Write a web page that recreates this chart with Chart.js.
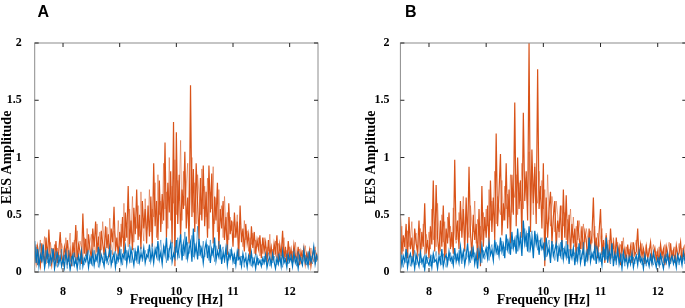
<!DOCTYPE html>
<html>
<head>
<meta charset="utf-8">
<script src="https://cdn.jsdelivr.net/npm/chart.js@4.4.1/dist/chart.umd.min.js"></script>
<style>
  html, body { margin: 0; padding: 0; background: #fff; overflow: hidden; }
  #wrapA { position: absolute; left: 0; top: 0; width: 340px; height: 308px; }
  #wrapB { position: absolute; left: 345px; top: 0; width: 345px; height: 308px; }
</style>
</head>
<body>
<div id="wrapA"><canvas id="chartA"></canvas></div>
<div id="wrapB"><canvas id="chartB"></canvas></div>
<script>
// frequency bins [Hz]
const freq = [
  7.5,7.525,7.55,7.575,7.6,7.625,7.65,7.675,7.7,7.725,7.75,7.775,7.8,7.825,7.85,7.875,7.9,7.925,7.95,7.975,
  8,8.025,8.05,8.075,8.1,8.125,8.15,8.175,8.2,8.225,8.25,8.275,8.3,8.325,8.35,8.375,8.4,8.425,8.45,8.475,
  8.5,8.525,8.55,8.575,8.6,8.625,8.65,8.675,8.7,8.725,8.75,8.775,8.8,8.825,8.85,8.875,8.9,8.925,8.95,8.975,
  9,9.025,9.05,9.075,9.1,9.125,9.15,9.175,9.2,9.225,9.25,9.275,9.3,9.325,9.35,9.375,9.4,9.425,9.45,9.475,
  9.5,9.525,9.55,9.575,9.6,9.625,9.65,9.675,9.7,9.725,9.75,9.775,9.8,9.825,9.85,9.875,9.9,9.925,9.95,9.975,
  10,10.025,10.05,10.075,10.1,10.125,10.15,10.175,10.2,10.225,10.25,10.275,10.3,10.325,10.35,10.375,10.4,10.425,10.45,10.475,
  10.5,10.525,10.55,10.575,10.6,10.625,10.65,10.675,10.7,10.725,10.75,10.775,10.8,10.825,10.85,10.875,10.9,10.925,10.95,10.975,
  11,11.025,11.05,11.075,11.1,11.125,11.15,11.175,11.2,11.225,11.25,11.275,11.3,11.325,11.35,11.375,11.4,11.425,11.45,11.475,
  11.5,11.525,11.55,11.575,11.6,11.625,11.65,11.675,11.7,11.725,11.75,11.775,11.8,11.825,11.85,11.875,11.9,11.925,11.95,11.975,
  12,12.025,12.05,12.075,12.1,12.125,12.15,12.175,12.2,12.225,12.25,12.275,12.3,12.325,12.35,12.375,12.4,12.425,12.45,12.475,
  12.5
];

// panel A
const orangeA = [
  0.18,0.08,0.22,0.12,0.05,0.25,0.15,0.09,0.30,0.11,0.37,0.14,0.06,0.21,0.10,0.27,0.08,0.18,0.35,0.12,
  0.07,0.22,0.15,0.28,0.09,0.19,0.05,0.26,0.13,0.41,0.10,0.24,0.18,0.07,0.51,0.16,0.29,0.11,0.33,0.20,
  0.12,0.38,0.22,0.44,0.17,0.31,0.09,0.36,0.25,0.15,0.40,0.21,0.33,0.13,0.38,0.26,0.57,0.18,0.30,0.14,
  0.35,0.22,0.48,0.16,0.52,0.30,0.75,0.24,0.45,0.19,0.56,0.33,0.72,0.28,0.50,0.20,0.62,0.38,0.55,0.25,
  0.58,0.31,0.66,0.22,0.95,0.40,0.62,0.28,0.80,0.35,0.68,0.45,1.13,0.30,0.78,0.52,0.88,0.25,1.31,0.05,
  1.22,0.42,0.85,0.30,0.72,0.55,1.05,0.38,0.65,0.25,1.63,0.48,0.90,0.35,0.95,0.60,0.28,0.82,0.45,0.93,
  0.40,0.70,0.30,0.93,0.52,0.86,0.25,0.66,0.45,0.78,0.20,0.55,0.38,0.62,0.28,0.48,0.15,0.60,0.33,0.45,
  0.22,0.52,0.30,0.44,0.12,0.58,0.26,0.38,0.18,0.42,0.25,0.33,0.10,0.40,0.21,0.35,0.15,0.28,0.20,0.32,
  0.12,0.30,0.18,0.26,0.08,0.28,0.15,0.22,0.10,0.25,0.17,0.32,0.09,0.24,0.14,0.36,0.11,0.22,0.07,0.27,
  0.13,0.20,0.08,0.24,0.15,0.10,0.22,0.06,0.18,0.12,0.21,0.07,0.16,0.11,0.19,0.05,0.14,0.20,0.09,0.15,
  0.10
];
// lighter (transparent) orange trace in A
const orangeA2 = [
  0.10,0.24,0.06,0.19,0.28,0.08,0.20,0.31,0.07,0.22,0.13,0.26,0.18,0.09,0.24,0.05,0.21,0.12,0.16,0.25,
  0.20,0.10,0.30,0.06,0.23,0.34,0.12,0.18,0.28,0.09,0.36,0.15,0.27,0.21,0.11,0.30,0.14,0.38,0.19,0.26,
  0.33,0.16,0.29,0.11,0.42,0.24,0.35,0.19,0.44,0.28,0.12,0.39,0.20,0.47,0.25,0.15,0.36,0.30,0.22,0.45,
  0.18,0.42,0.30,0.60,0.27,0.40,0.22,0.55,0.34,0.66,0.26,0.48,0.38,0.58,0.31,0.70,0.42,0.27,0.64,0.36,
  0.40,0.72,0.35,0.55,0.48,0.78,0.30,0.85,0.50,0.62,0.42,0.95,0.55,0.70,0.38,1.00,0.45,0.75,0.60,0.98,
  0.50,0.80,0.62,1.15,0.45,0.88,0.58,0.75,0.95,0.40,0.70,1.00,0.52,0.78,0.42,0.85,0.68,0.50,0.90,0.55,
  0.75,0.48,0.82,0.38,0.70,0.55,0.92,0.42,0.65,0.35,0.72,0.45,0.58,0.30,0.66,0.40,0.52,0.28,0.48,0.36,
  0.44,0.30,0.36,0.50,0.25,0.40,0.32,0.22,0.45,0.28,0.36,0.18,0.30,0.24,0.34,0.16,0.28,0.22,0.30,0.14,
  0.24,0.16,0.30,0.12,0.22,0.18,0.33,0.10,0.20,0.15,0.27,0.12,0.25,0.18,0.08,0.22,0.30,0.13,0.19,0.10,
  0.22,0.12,0.18,0.09,0.26,0.14,0.11,0.20,0.07,0.19,0.13,0.23,0.10,0.17,0.06,0.21,0.12,0.09,0.22,0.11,
  0.14
];
const blueA = [
  0.27,0.08,0.20,0.05,0.15,0.10,0.24,0.04,0.12,0.18,0.06,0.14,0.09,0.20,0.03,0.11,0.16,0.07,0.13,0.05,
  0.12,0.04,0.17,0.08,0.13,0.02,0.10,0.15,0.06,0.11,0.03,0.14,0.08,0.18,0.05,0.12,0.09,0.16,0.04,0.13,
  0.08,0.17,0.06,0.14,0.10,0.22,0.07,0.15,0.11,0.05,0.18,0.09,0.13,0.21,0.06,0.12,0.16,0.04,0.14,0.10,
  0.19,0.08,0.15,0.12,0.22,0.07,0.17,0.10,0.20,0.13,0.06,0.18,0.11,0.23,0.09,0.16,0.12,0.21,0.08,0.15,
  0.13,0.24,0.10,0.18,0.08,0.20,0.14,0.27,0.11,0.17,0.07,0.22,0.15,0.30,0.10,0.19,0.25,0.09,0.16,0.12,
  0.28,0.14,0.22,0.33,0.10,0.25,0.17,0.31,0.12,0.20,0.26,0.09,0.38,0.15,0.23,0.11,0.29,0.16,0.21,0.08,
  0.19,0.26,0.12,0.23,0.08,0.20,0.15,0.30,0.10,0.18,0.13,0.24,0.07,0.17,0.11,0.21,0.06,0.16,0.12,0.19,
  0.09,0.15,0.06,0.18,0.11,0.13,0.05,0.16,0.09,0.12,0.04,0.14,0.08,0.17,0.06,0.11,0.03,0.13,0.07,0.10,
  0.05,0.12,0.08,0.15,0.04,0.10,0.13,0.06,0.16,0.09,0.03,0.12,0.07,0.14,0.05,0.18,0.08,0.11,0.04,0.15,
  0.09,0.13,0.05,0.17,0.08,0.12,0.03,0.14,0.10,0.06,0.19,0.08,0.12,0.05,0.16,0.09,0.13,0.22,0.07,0.14,
  0.11
];
const blueA2 = [
  0.12,0.22,0.06,0.17,0.25,0.09,0.14,0.03,0.19,0.08,0.16,0.05,0.21,0.11,0.07,0.18,0.04,0.15,0.10,0.20,
  0.08,0.15,0.11,0.03,0.19,0.09,0.14,0.05,0.17,0.07,0.13,0.10,0.02,0.16,0.09,0.06,0.15,0.11,0.19,0.07,
  0.14,0.05,0.19,0.09,0.16,0.04,0.20,0.12,0.08,0.17,0.10,0.14,0.06,0.11,0.19,0.08,0.13,0.18,0.07,0.16,
  0.11,0.20,0.06,0.17,0.10,0.19,0.13,0.24,0.08,0.16,0.21,0.10,0.18,0.07,0.15,0.22,0.09,0.14,0.19,0.11,
  0.20,0.09,0.17,0.25,0.13,0.16,0.22,0.10,0.19,0.28,0.12,0.18,0.23,0.08,0.21,0.14,0.11,0.26,0.13,0.22,
  0.17,0.30,0.12,0.19,0.24,0.14,0.35,0.11,0.26,0.16,0.22,0.32,0.13,0.25,0.18,0.40,0.14,0.23,0.12,0.27,
  0.13,0.18,0.24,0.10,0.28,0.14,0.21,0.09,0.23,0.15,0.27,0.11,0.19,0.22,0.08,0.17,0.24,0.10,0.20,0.14,
  0.16,0.07,0.13,0.10,0.20,0.06,0.14,0.11,0.04,0.17,0.09,0.12,0.15,0.05,0.13,0.10,0.16,0.06,0.12,0.08,
  0.11,0.06,0.14,0.09,0.12,0.17,0.05,0.11,0.08,0.14,0.10,0.06,0.16,0.09,0.12,0.04,0.13,0.10,0.16,0.07,
  0.12,0.16,0.07,0.11,0.14,0.05,0.18,0.10,0.13,0.08,0.11,0.15,0.06,0.18,0.10,0.14,0.07,0.12,0.19,0.09,
  0.16
];

// panel B
const orangeB = [
  0.50,0.15,0.32,0.22,0.42,0.12,0.48,0.20,0.30,0.10,0.38,0.25,0.18,0.45,0.14,0.35,0.22,0.60,0.16,0.28,
  0.12,0.40,0.24,0.80,0.18,0.76,0.30,0.15,0.45,0.22,0.58,0.10,0.38,0.25,0.52,0.20,0.35,0.16,0.98,0.28,
  0.45,0.20,0.62,0.30,0.55,0.18,0.65,0.25,0.92,0.35,0.14,0.50,0.28,0.42,0.10,0.55,0.05,0.75,0.22,0.48,
  0.30,0.58,0.22,0.80,0.35,0.65,0.28,1.21,0.40,0.70,1.03,0.32,0.60,0.45,0.95,0.38,0.72,0.25,0.85,0.50,
  1.48,0.40,1.00,0.55,0.80,0.30,1.39,0.62,0.88,0.45,2.00,0.35,1.07,0.60,0.92,0.42,1.77,0.55,0.75,0.38,
  0.95,0.05,0.65,0.30,0.55,0.70,0.25,0.48,0.62,0.20,0.45,0.35,0.58,0.18,0.72,0.30,0.67,0.22,0.50,0.15,
  0.42,0.25,0.38,0.12,0.45,0.30,0.20,0.40,0.15,0.35,0.28,0.10,0.38,0.22,0.32,0.65,0.18,0.30,0.12,0.35,
  0.55,0.15,0.28,0.08,0.32,0.20,0.12,0.38,0.18,0.25,0.10,0.30,0.16,0.22,0.06,0.27,0.14,0.20,0.09,0.24,
  0.12,0.22,0.08,0.26,0.15,0.18,0.38,0.10,0.24,0.14,0.20,0.07,0.22,0.12,0.18,0.26,0.09,0.16,0.21,0.11,
  0.18,0.08,0.24,0.14,0.20,0.06,0.22,0.15,0.10,0.25,0.12,0.19,0.08,0.23,0.14,0.17,0.26,0.09,0.20,0.13,
  0.18
];
const orangeB2 = [
  0.25,0.40,0.18,0.30,0.12,0.36,0.22,0.28,0.44,0.16,0.26,0.34,0.10,0.30,0.38,0.20,0.42,0.15,0.33,0.24,
  0.35,0.20,0.55,0.28,0.42,0.22,0.60,0.32,0.18,0.50,0.26,0.44,0.15,0.48,0.30,0.40,0.22,0.56,0.34,0.25,
  0.30,0.52,0.36,0.45,0.66,0.28,0.48,0.40,0.30,0.58,0.42,0.35,0.62,0.25,0.46,0.32,0.40,0.28,0.52,0.36,
  0.55,0.40,0.72,0.45,0.62,0.52,0.88,0.42,0.66,0.55,0.50,0.80,0.45,0.75,0.55,0.68,0.48,0.85,0.52,0.72,
  0.65,0.85,0.50,0.78,0.62,0.95,0.55,0.82,0.70,0.58,1.05,0.65,0.85,0.50,0.95,0.70,0.60,0.88,0.66,0.80,
  0.55,0.72,0.42,0.85,0.50,0.40,0.66,0.55,0.35,0.62,0.50,0.30,0.48,0.58,0.40,0.52,0.28,0.46,0.38,0.55,
  0.30,0.48,0.22,0.40,0.28,0.45,0.35,0.20,0.42,0.26,0.38,0.30,0.18,0.36,0.25,0.32,0.40,0.20,0.34,0.22,
  0.30,0.38,0.20,0.26,0.34,0.15,0.28,0.22,0.12,0.30,0.20,0.16,0.26,0.10,0.24,0.18,0.30,0.12,0.22,0.16,
  0.20,0.14,0.26,0.10,0.22,0.28,0.15,0.20,0.12,0.25,0.09,0.18,0.24,0.13,0.21,0.10,0.19,0.24,0.12,0.18,
  0.14,0.22,0.11,0.18,0.08,0.24,0.13,0.20,0.26,0.10,0.19,0.14,0.22,0.09,0.18,0.25,0.12,0.21,0.15,0.24,
  0.12
];
const blueB = [
  0.18,0.06,0.14,0.09,0.20,0.04,0.12,0.16,0.07,0.13,0.03,0.15,0.10,0.05,0.17,0.08,0.12,0.02,0.14,0.09,
  0.06,0.13,0.04,0.16,0.09,0.11,0.03,0.14,0.08,0.20,0.05,0.12,0.15,0.07,0.18,0.10,0.13,0.06,0.21,0.09,
  0.15,0.08,0.22,0.11,0.18,0.06,0.14,0.25,0.09,0.17,0.12,0.20,0.07,0.15,0.03,0.19,0.10,0.23,0.13,0.16,
  0.21,0.12,0.26,0.15,0.19,0.10,0.28,0.17,0.22,0.14,0.30,0.18,0.24,0.12,0.33,0.20,0.27,0.15,0.35,0.21,
  0.28,0.16,0.38,0.22,0.30,0.14,0.45,0.25,0.33,0.18,0.40,0.21,0.29,0.12,0.36,0.24,0.31,0.15,0.27,0.20,
  0.24,0.10,0.30,0.16,0.21,0.08,0.27,0.14,0.19,0.25,0.09,0.22,0.15,0.28,0.11,0.20,0.13,0.24,0.07,0.18,
  0.12,0.21,0.06,0.18,0.10,0.25,0.08,0.15,0.20,0.05,0.17,0.11,0.30,0.09,0.16,0.12,0.22,0.07,0.19,0.10,
  0.15,0.06,0.22,0.10,0.30,0.08,0.18,0.12,0.25,0.05,0.16,0.10,0.20,0.07,0.14,0.03,0.17,0.09,0.12,0.05,
  0.13,0.07,0.16,0.04,0.11,0.14,0.06,0.18,0.09,0.12,0.03,0.15,0.08,0.11,0.05,0.14,0.07,0.17,0.10,0.04,
  0.12,0.06,0.15,0.09,0.03,0.13,0.08,0.16,0.05,0.11,0.14,0.07,0.12,0.04,0.15,0.09,0.13,0.06,0.17,0.10,
  0.08
];
const blueB2 = [
  0.10,0.15,0.04,0.12,0.08,0.17,0.11,0.05,0.14,0.09,0.19,0.06,0.13,0.16,0.08,0.12,0.04,0.15,0.07,0.13,
  0.11,0.05,0.15,0.08,0.12,0.18,0.07,0.10,0.14,0.06,0.16,0.09,0.04,0.13,0.10,0.17,0.07,0.14,0.11,0.16,
  0.10,0.19,0.13,0.07,0.16,0.20,0.11,0.14,0.18,0.08,0.22,0.13,0.17,0.10,0.21,0.12,0.16,0.08,0.19,0.11,
  0.16,0.22,0.10,0.19,0.24,0.13,0.20,0.26,0.15,0.23,0.18,0.27,0.14,0.22,0.19,0.29,0.16,0.25,0.20,0.28,
  0.22,0.32,0.18,0.27,0.35,0.20,0.30,0.38,0.22,0.34,0.17,0.28,0.36,0.20,0.26,0.33,0.19,0.28,0.24,0.30,
  0.19,0.26,0.13,0.22,0.28,0.12,0.20,0.24,0.10,0.18,0.23,0.14,0.26,0.11,0.21,0.17,0.27,0.12,0.20,0.15,
  0.20,0.14,0.17,0.09,0.22,0.15,0.19,0.11,0.26,0.13,0.09,0.20,0.15,0.24,0.12,0.18,0.10,0.23,0.14,0.17,
  0.09,0.18,0.13,0.20,0.11,0.24,0.14,0.07,0.19,0.12,0.15,0.06,0.18,0.11,0.09,0.16,0.12,0.05,0.15,0.10,
  0.08,0.14,0.10,0.13,0.07,0.16,0.11,0.09,0.14,0.06,0.12,0.10,0.05,0.13,0.09,0.16,0.11,0.06,0.13,0.08,
  0.10,0.13,0.06,0.14,0.11,0.08,0.16,0.10,0.13,0.07,0.12,0.09,0.15,0.08,0.11,0.06,0.14,0.10,0.12,0.07,
  0.13
];

const xTicks = [8, 9, 10, 11, 12];
const yTicks = [0, 0.5, 1, 1.5, 2];

const ORANGE = "#D95319";
const ORANGE_LIGHT = "rgba(217, 83, 25, 0.5)";
const BLUE = "#0072BD";
const BLUE_LIGHT = "rgba(0, 114, 189, 0.5)";
const serif = '"Liberation Serif", "Times New Roman", serif';

// box around the axes + inward ticks (matlab look) + panel letter
const frame = {
  id: "frame",
  afterDatasetsDraw(chart, args, opts) {
    const { ctx, chartArea: a, scales } = chart;
    const x = scales.x, y = scales.y;
    ctx.save();
    ctx.lineWidth = 1;
    ctx.strokeStyle = "#8c8c8c";
    ctx.strokeRect(a.left, a.top, a.right - a.left, a.bottom - a.top);
    ctx.strokeStyle = "#262626";
    ctx.beginPath();
    x.ticks.forEach(function (t) {
      const px = x.getPixelForValue(t.value);
      ctx.moveTo(px, a.bottom); ctx.lineTo(px, a.bottom - 4);
      ctx.moveTo(px, a.top); ctx.lineTo(px, a.top + 4);
    });
    y.ticks.forEach(function (t) {
      const py = y.getPixelForValue(t.value);
      ctx.moveTo(a.left, py); ctx.lineTo(a.left + 4, py);
      ctx.moveTo(a.right, py); ctx.lineTo(a.right - 4, py);
    });
    ctx.stroke();
    ctx.fillStyle = "#000";
    ctx.font = 'bold 16px "Liberation Sans", Arial, sans-serif';
    ctx.textBaseline = "alphabetic";
    ctx.fillText(opts.letter, opts.lx, opts.ly);
    ctx.restore();
  },
};

function trace(label, data, color, width) {
  return {
    label: label,
    data: data,
    borderColor: color,
    borderWidth: width,
    pointRadius: 0,
    tension: 0,
  };
}

function makeChart(id, s, p) {
  const ctx = document.getElementById(id).getContext("2d");
  return new Chart(ctx, {
    type: "line",
    data: {
      labels: freq,
      // first dataset is drawn on top
      datasets: [
        trace("blue", s.blue, BLUE, 1.2),
        trace("blue 2", s.blue2, BLUE_LIGHT, 1),
        trace("orange", s.orange, ORANGE, 1.2),
        trace("orange 2", s.orange2, ORANGE_LIGHT, 1),
      ],
    },
    options: {
      responsive: true,
      maintainAspectRatio: false,
      animation: false,
      layout: {
        padding: { top: 43, right: p.right, left: p.left, bottom: 0 },
      },
      plugins: {
        legend: { display: false },
        tooltip: { enabled: false },
        frame: { letter: p.letter, lx: p.lx, ly: 17 },
      },
      scales: {
        x: {
          type: "linear",
          min: 7.5,
          max: 12.5,
          grid: { display: false },
          border: { display: false },
          afterBuildTicks: function (scale) {
            scale.ticks = xTicks.map(function (v) { return { value: v }; });
          },
          afterFit: function (scale) { scale.height = 36; },
          ticks: {
            padding: 5,
            color: "#000",
            font: { family: serif, size: 12, weight: "bold" },
            callback: function (v) { return String(v); },
          },
          title: {
            display: true,
            text: "Frequency [Hz]",
            color: "#000",
            padding: 0,
            font: { family: serif, size: 14, weight: "bold", lineHeight: 1.1 },
          },
        },
        y: {
          min: 0,
          max: 2,
          grid: { display: false },
          border: { display: false },
          afterBuildTicks: function (scale) {
            scale.ticks = yTicks.map(function (v) { return { value: v }; });
          },
          afterFit: function (scale) { scale.width = p.yWidth; },
          ticks: {
            padding: p.tickPad,
            color: "#000",
            font: { family: serif, size: 12, weight: "bold" },
            callback: function (v) { return String(v); },
          },
          title: {
            display: true,
            text: "EES Amplitude",
            color: "#000",
            padding: 0,
            font: { family: serif, size: 14, weight: "bold", lineHeight: 1.1 },
          },
        },
      },
    },
    plugins: [frame],
  });
}

makeChart("chartA",
  { orange: orangeA, orange2: orangeA2, blue: blueA, blue2: blueA2 },
  { letter: "A", lx: 37.5, left: 0, right: 22, yWidth: 34.7, tickPad: 5 });
makeChart("chartB",
  { orange: orangeB, orange2: orangeB2, blue: blueB, blue2: blueB2 },
  { letter: "B", lx: 60, left: 19, right: 3.7, yWidth: 36.4, tickPad: 3 });
</script>
</body>
</html>
